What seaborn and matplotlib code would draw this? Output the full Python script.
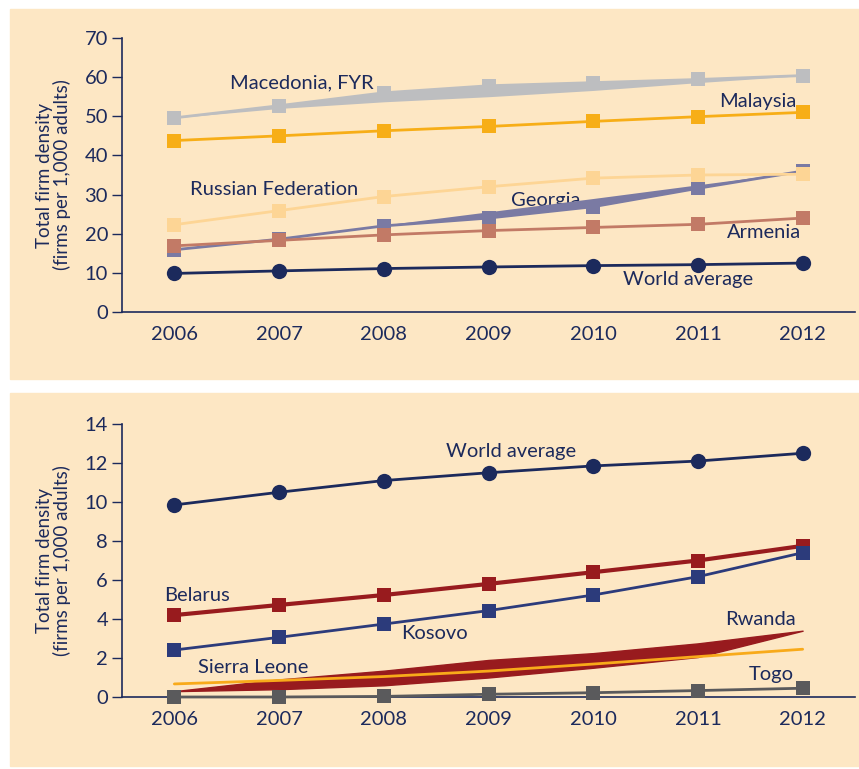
import matplotlib
matplotlib.use("Agg")
import matplotlib.pyplot as plt
import seaborn as sns
from matplotlib.patches import Rectangle

# --- data ---
years = [2006, 2007, 2008, 2009, 2010, 2011, 2012]

# top panel
macedonia = [49.6, 52.7, 56.0, 57.8, 58.6, 59.4, 60.4]
macedonia_low = [49.6, 52.0, 53.7, 55.0, 56.6, 58.6, 60.4]
malaysia = [43.8, 45.0, 46.3, 47.4, 48.7, 49.9, 51.0]
russia = [22.3, 25.9, 29.5, 32.0, 34.2, 35.0, 35.2]
georgia = [15.9, 18.6, 22.0, 24.0, 26.9, 31.6, 36.0]
georgia_high = [15.9, 18.9, 22.2, 25.6, 29.0, 32.5, 36.0]
armenia = [16.9, 18.3, 19.7, 20.8, 21.6, 22.4, 24.0]
world = [9.85, 10.5, 11.1, 11.5, 11.85, 12.1, 12.5]

# bottom panel
belarus = [4.2, 4.72, 5.23, 5.8, 6.4, 7.0, 7.75]
kosovo = [2.41, 3.06, 3.74, 4.43, 5.23, 6.17, 7.4]
togo = [0.0, 0.0, 0.03, 0.14, 0.22, 0.33, 0.45]
sierra_leone = [0.67, 0.85, 1.05, 1.33, 1.69, 2.07, 2.45]
rwanda_low = [0.3, 0.4, 0.6, 1.0, 1.5, 2.05, 3.4]
rwanda_high = [0.3, 0.9, 1.35, 1.9, 2.25, 2.75, 3.4]

top_ticks = [0, 10, 20, 30, 40, 50, 60, 70]
bottom_ticks = [0, 2, 4, 6, 8, 10, 12, 14]

# colours
bg = "#FDE7C4"
navy = "#1C2A5C"
c_mac = "#BDBEC0"
c_mal = "#F7AE17"
c_rus = "#FDD595"
c_geo = "#7A7AA3"
c_arm = "#C27A66"
c_bel = "#981B1E"
c_kos = "#2C3B7B"
c_togo = "#5A5A5C"
c_sl = "#F8AA1A"

sns.set_theme(style="white")
plt.rcParams['font.family'] = ['Lato', 'DejaVu Sans']

fig = plt.figure(figsize=(8.59, 7.69), dpi=100)
fig.patch.set_facecolor("white")

# beige panels behind the charts
fig.patches.append(Rectangle((10 / 859, 1 - 379 / 769), 849 / 859, 370 / 769,
                             transform=fig.transFigure, color=bg, zorder=-5))
fig.patches.append(Rectangle((10 / 859, 1 - 766 / 769), 849 / 859, 373 / 769,
                             transform=fig.transFigure, color=bg, zorder=-5))

ax1 = fig.add_axes([122 / 859, 1 - 312 / 769, 733 / 859, 274 / 769])
ax2 = fig.add_axes([122 / 859, 1 - 697 / 769, 733 / 859, 273 / 769])

sq = dict(marker="s", markersize=10, markeredgewidth=0)
dot = dict(marker="o", markersize=11, markeredgewidth=0)

# ---- top panel ----
ax1.fill_between(years, macedonia_low, macedonia, color=c_mac, lw=0, zorder=2)
sns.lineplot(x=years, y=macedonia, ax=ax1, color=c_mac, lw=2, zorder=2, **sq)
sns.lineplot(x=years, y=malaysia, ax=ax1, color=c_mal, lw=2, zorder=2, **sq)
ax1.fill_between(years, georgia, georgia_high, color=c_geo, lw=0, zorder=2)
sns.lineplot(x=years, y=georgia, ax=ax1, color=c_geo, lw=2, zorder=2, **sq)
sns.lineplot(x=years, y=russia, ax=ax1, color=c_rus, lw=2, zorder=3, **sq)
sns.lineplot(x=years, y=armenia, ax=ax1, color=c_arm, lw=2, zorder=3, **sq)
sns.lineplot(x=years, y=world, ax=ax1, color=navy, lw=2, zorder=4, **dot)

fs = 14.5
ax1.text(2007.22, 58.5, "Macedonia, FYR", color=navy, fontsize=fs, ha="center", va="center", zorder=1)
ax1.text(2011.57, 53.7, "Malaysia", color=navy, fontsize=fs, ha="center", va="center")
ax1.text(2006.95, 31.2, "Russian Federation", color=navy, fontsize=fs, ha="center", va="center")
ax1.text(2009.55, 28.6, "Georgia", color=navy, fontsize=fs, ha="center", va="center", zorder=1)
ax1.text(2011.63, 20.2, "Armenia", color=navy, fontsize=fs, ha="center", va="center")
ax1.text(2010.91, 8.2, "World average", color=navy, fontsize=fs, ha="center", va="center")

# ---- bottom panel ----
sns.lineplot(x=years, y=world, ax=ax2, color=navy, lw=2, zorder=4, **dot)
sns.lineplot(x=years, y=belarus, ax=ax2, color=c_bel, lw=3, zorder=3, **sq)
sns.lineplot(x=years, y=kosovo, ax=ax2, color=c_kos, lw=2, zorder=3, **sq)
ax2.fill_between(years, rwanda_low, rwanda_high, color=c_bel, lw=1, zorder=2)
sns.lineplot(x=years, y=sierra_leone, ax=ax2, color=c_sl, lw=2, zorder=2.5)
sns.lineplot(x=years, y=togo, ax=ax2, color=c_togo, lw=2, zorder=3, clip_on=False, **sq)

ax2.text(2009.22, 12.58, "World average", color=navy, fontsize=fs, ha="center", va="center")
ax2.text(2006.22, 5.2, "Belarus", color=navy, fontsize=fs, ha="center", va="center")
ax2.text(2008.48, 3.26, "Kosovo", color=navy, fontsize=fs, ha="center", va="center")
ax2.text(2006.75, 1.49, "Sierra Leone", color=navy, fontsize=fs, ha="center", va="center")
ax2.text(2011.6, 3.98, "Rwanda", color=navy, fontsize=fs, ha="center", va="center")
ax2.text(2011.7, 1.13, "Togo", color=navy, fontsize=fs, ha="center", va="center")

for ax, ticks in ((ax1, top_ticks), (ax2, bottom_ticks)):
    ax.set_facecolor("none")
    ax.set_xlim(2005.5, 2012.5)
    ax.set_ylim(ticks[0], ticks[-1])
    ax.set_xticks(years)
    ax.set_xticklabels([str(y) for y in years])
    ax.set_yticks(ticks)
    ax.tick_params(axis="x", length=0, pad=10, labelsize=14.5, colors=navy)
    ax.tick_params(axis="y", length=7, width=1, pad=3, labelsize=14.5, colors=navy, direction="out")
    ax.yaxis.set_tick_params(left=True)
    for s in ("top", "right"):
        ax.spines[s].set_visible(False)
    for s in ("left", "bottom"):
        ax.spines[s].set_color(navy)
        ax.spines[s].set_linewidth(1.2)
    ax.set_xlabel("")
    ax.set_ylabel("Total firm density\n(firms per 1,000 adults)", color=navy, fontsize=13.5,
                  labelpad=10, linespacing=1.0)
    ax.grid(False)

fig.savefig("out.png", dpi=100, facecolor="white")
plt.close(fig)
